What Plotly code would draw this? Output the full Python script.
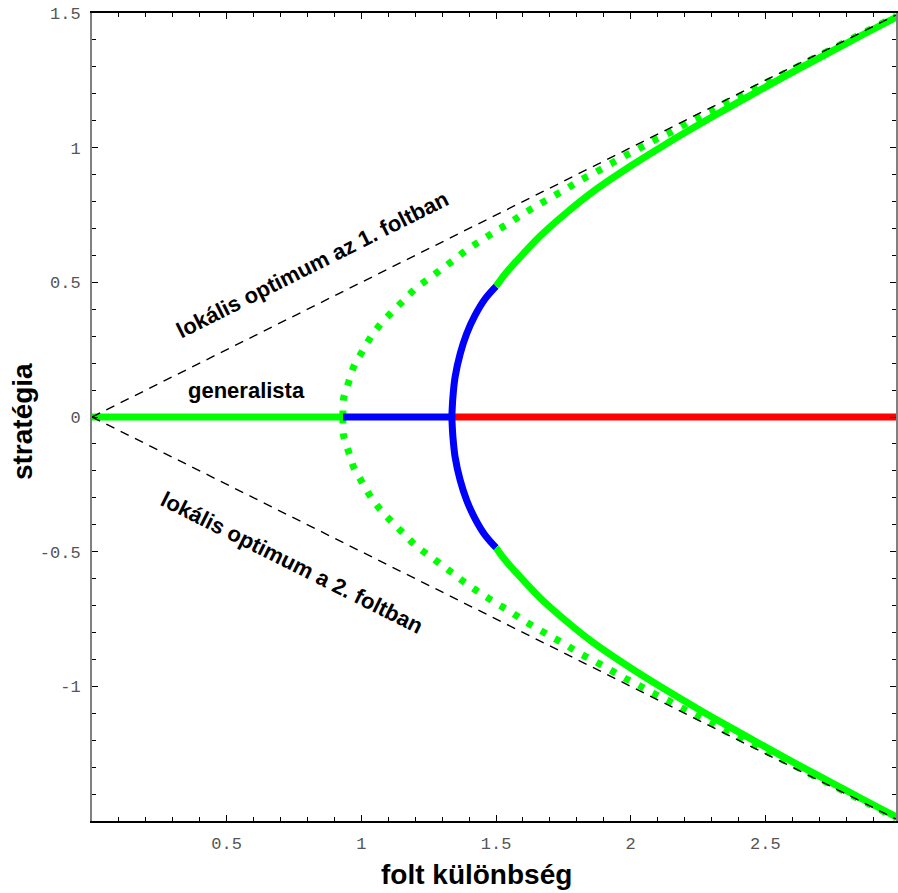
import plotly.graph_objects as go

# ---- data ----
# horizontal (generalist) branch segments on y = 0
gen_green_x = [0.0, 0.932]
gen_blue_x = [0.932, 1.336]
gen_red_x = [1.336, 2.985]

# unstable (blue) part of the solid curve, upper half
blue_x = [1.336, 1.340, 1.348, 1.367, 1.391, 1.422, 1.459, 1.500]
blue_y = [0.0, 0.074, 0.148, 0.235, 0.309, 0.377, 0.438, 0.485]

# stable (green) part of the solid curve, upper half
solid_x = [1.500, 1.533, 1.577, 1.663, 1.762, 1.860, 2.000, 2.130, 2.250, 2.380, 2.500, 2.630, 2.750, 2.870, 2.985]
solid_y = [0.485, 0.530, 0.580, 0.671, 0.759, 0.837, 0.932, 1.013, 1.084, 1.158, 1.225, 1.296, 1.360, 1.424, 1.484]

# dotted green curve, upper half
dot_x = [0.932, 0.934, 0.953, 0.972, 1.002, 1.033, 1.070, 1.111, 1.157, 1.200, 1.249, 1.299, 1.348,
         1.397, 1.447, 1.500, 1.552, 1.604, 1.657, 1.708, 1.762, 1.813, 1.867, 1.922, 1.975, 2.030,
         2.083, 2.138, 2.194, 2.247, 2.301, 2.354, 2.410, 2.550, 2.700, 2.850, 2.985]
dot_y = [0.0, 0.068, 0.130, 0.188, 0.241, 0.294, 0.343, 0.387, 0.433, 0.476, 0.513, 0.550, 0.587,
         0.624, 0.657, 0.691, 0.722, 0.756, 0.788, 0.817, 0.848, 0.879, 0.907, 0.938, 0.968, 0.996,
         1.025, 1.052, 1.083, 1.111, 1.138, 1.167, 1.194, 1.265, 1.342, 1.419, 1.488]

# dashed local-optimum lines
opt_x = [0.0, 3.0]
opt_up_y = [0.0, 1.5]
opt_dn_y = [0.0, -1.5]

x_ticks = [0.5, 1, 1.5, 2, 2.5]
x_tick_text = ["0.5", "1", "1.5", "2", "2.5"]
y_ticks = [-1, -0.5, 0, 0.5, 1, 1.5]
y_tick_text = ["-1", "-0.5", "0", "0.5", "1", "1.5"]

GREEN = "#00ff00"
BLUE = "#0000ff"
RED = "#ff0000"
W = 7

fig = go.Figure()

def line(x, y, color, width=W, dash=None, shape="linear"):
    fig.add_trace(go.Scatter(x=x, y=y, mode="lines", hoverinfo="skip", showlegend=False,
                             line=dict(color=color, width=width, dash=dash, shape=shape)))

# dotted curve (both halves)
line(dot_x, dot_y, GREEN, dash="6px,10px", shape="spline")
line(dot_x, [-v for v in dot_y], GREEN, dash="6px,10px", shape="spline")

# horizontal branch
line(gen_red_x, [0, 0], RED)
line(gen_green_x, [0, 0], GREEN)
line(gen_blue_x, [0, 0], BLUE)

# solid curves
line(solid_x, solid_y, GREEN, shape="spline")
line(solid_x, [-v for v in solid_y], GREEN, shape="spline")
line(blue_x, blue_y, BLUE, shape="spline")
line(blue_x, [-v for v in blue_y], BLUE, shape="spline")

# dashed lines
line(opt_x, opt_up_y, "black", width=1.4, dash="9px,7px")
line(opt_x, opt_dn_y, "black", width=1.4, dash="9px,7px")

label_font = dict(family="Liberation Sans, Arial, sans-serif", size=22, color="black")
title_font = dict(family="Liberation Sans, Arial, sans-serif", size=28, color="black")

fig.add_annotation(x=0.572, y=0.099, xref="x", yref="y", text="<b>generalista</b>",
                   showarrow=False, font=label_font)
fig.add_annotation(x=0.819, y=0.566, xref="x", yref="y", text="<b>lokális optimum az 1. foltban</b>",
                   showarrow=False, font=label_font, textangle=-26.6)
fig.add_annotation(x=0.741, y=-0.54, xref="x", yref="y", text="<b>lokális optimum a 2. foltban</b>",
                   showarrow=False, font=label_font, textangle=26.6)

fig.add_annotation(x=0.478, y=-0.0656, xref="paper", yref="paper", text="<b>folt különbség</b>",
                   showarrow=False, font=title_font, xanchor="center", yanchor="middle")
fig.add_annotation(x=-0.0856, y=0.494, xref="paper", yref="paper", text="<b>stratégia</b>",
                   showarrow=False, font=title_font, textangle=-90, xanchor="center", yanchor="middle")

tick_font = dict(family="Liberation Mono, Courier New, monospace", size=17, color="#555555")

fig.update_xaxes(range=[0, 2.985], showgrid=False, zeroline=False, showline=True, linecolor="black",
                 linewidth=1.5, mirror="ticks", ticks="inside", ticklen=6, tickwidth=1, tickcolor="black",
                 tickvals=x_ticks, ticktext=x_tick_text, tickfont=tick_font, ticklabelstandoff=6,
                 minor=dict(tick0=0, dtick=0.1, ticks="inside", ticklen=4, tickwidth=1, tickcolor="black",
                            showgrid=False))
fig.update_yaxes(range=[-1.5, 1.5], showgrid=False, zeroline=False, showline=True, linecolor="#808080",
                 linewidth=2, mirror="ticks", ticks="inside", ticklen=6, tickwidth=1, tickcolor="black",
                 tickvals=y_ticks, ticktext=y_tick_text, tickfont=tick_font, ticklabelstandoff=6,
                 minor=dict(tick0=0, dtick=0.1, ticks="inside", ticklen=4, tickwidth=1, tickcolor="black",
                            showgrid=False))

fig.update_layout(width=898, height=893, margin=dict(l=92, r=0, t=13, b=72),
                  plot_bgcolor="white", paper_bgcolor="white", showlegend=False)

fig.write_html("out.html")
